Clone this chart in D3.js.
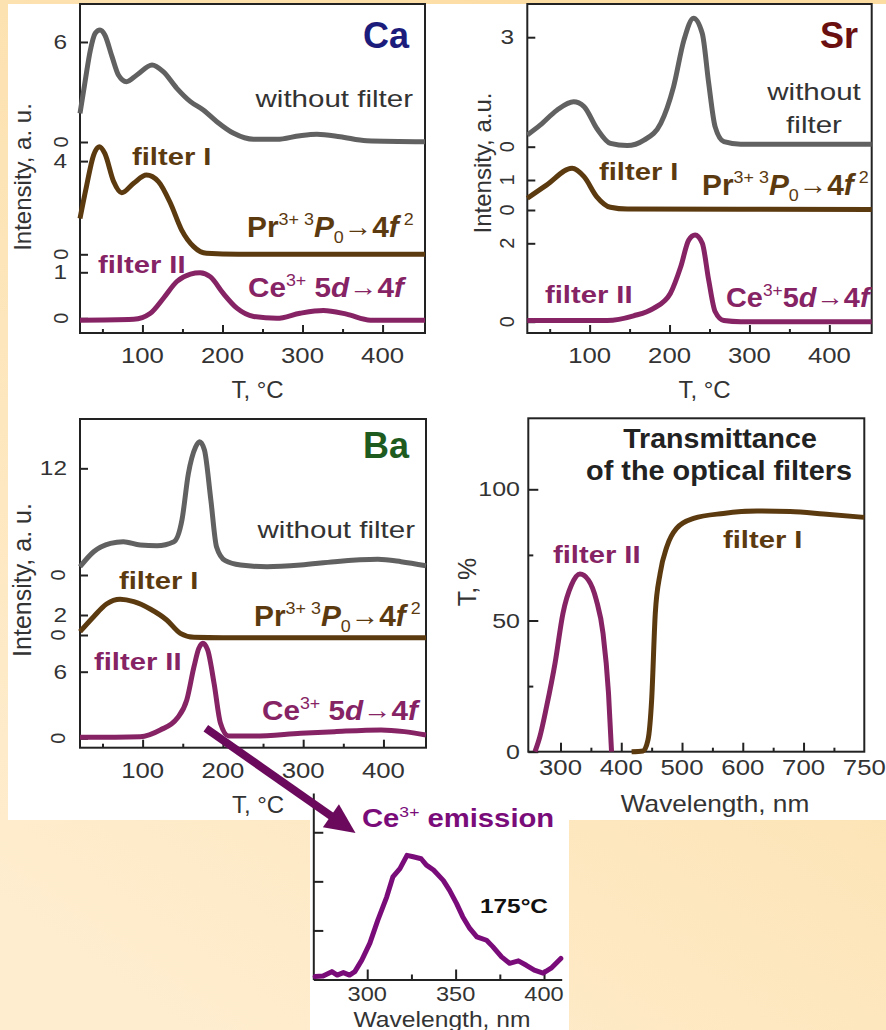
<!DOCTYPE html>
<html>
<head>
<meta charset="utf-8">
<script src="https://cdn.jsdelivr.net/npm/d3@7"></script>
<style>
  html, body { margin: 0; padding: 0; background: #fde6b8; }
  svg { display: block; }
  text { font-family: "Liberation Sans", Arial, Helvetica, sans-serif; white-space: pre; }
</style>
</head>
<body>
<svg id="fig" width="886" height="1030"></svg>
<script>
// ---------- thermoluminescence glow curves (intensity, a.u. vs T, °C) ----------
const caNoFilterT = [22, 28, 35, 41, 47, 53, 62, 70, 80, 93, 112, 126, 143, 160, 176, 193, 214, 239, 268, 297, 318, 347, 380, 453];
const caNoFilterI = [1.72, 3.52, 5.52, 6.52, 6.72, 6.42, 5.12, 4.02, 3.62, 4.02, 4.62, 4.22, 3.22, 2.42, 1.92, 1.22, 0.52, 0.16, 0.16, 0.38, 0.46, 0.32, 0.08, 0.02];
const caPrT = [22, 30, 39, 46, 53, 64, 74, 89, 105, 120, 135, 149, 164, 180, 220, 453];
const caPrI = [1.54, 2.9, 4.26, 4.62, 4.33, 3.12, 2.64, 3.05, 3.4, 3.12, 2.19, 1.04, 0.33, 0.04, 0, 0];
const caCeT = [22, 89, 110, 126, 143, 160, 172, 185, 201, 218, 239, 268, 297, 326, 355, 385, 453];
const caCeI = [-0.04, -0.02, 0.11, 0.43, 0.8, 0.96, 0.99, 0.9, 0.54, 0.22, 0.04, 0, 0.11, 0.17, 0.09, -0.04, -0.04];

const srNoFilterT = [22, 38, 59, 80, 93, 109, 126, 147, 168, 189, 205, 218, 230, 241, 249, 257, 268, 289, 453];
const srNoFilterI = [0.32, 0.59, 1.0, 1.23, 1.1, 0.5, 0.09, 0.03, 0.18, 0.64, 1.64, 2.92, 3.52, 3.1, 1.74, 0.55, 0.14, 0.07, 0.07];
const srPrT = [22, 46, 78, 93, 109, 126, 147, 453];
const srPrI = [0.39, 0.83, 1.39, 1.11, 0.44, 0.09, 0.03, 0.02];
const srCeT = [22, 122, 155, 180, 201, 214, 224, 232, 241, 249, 257, 268, 289, 453];
const srCeI = [0.03, 0.03, 0.15, 0.34, 0.72, 1.4, 2.08, 2.21, 2.0, 1.06, 0.26, 0.03, 0, 0];

const baNoFilterT = [22, 39, 60, 76, 97, 118, 139, 149, 157, 166, 171, 177, 185, 192, 203, 222, 255, 297, 339, 393, 422, 453];
const baNoFilterI = [0.93, 2.62, 3.56, 3.75, 3.37, 3.3, 3.75, 6.19, 11.4, 14.4, 15.0, 14.06, 8.44, 3.19, 1.61, 1.12, 0.93, 1.12, 1.5, 1.76, 1.5, 1.05];
const baPrT = [22, 39, 55, 72, 89, 110, 130, 147, 164, 200, 453];
const baPrI = [0.33, 1.83, 3.1, 3.57, 3.33, 2.57, 1.5, 0.17, -0.23, -0.28, -0.28];
const baCeT = [22, 97, 122, 143, 155, 164, 170, 175, 181, 189, 197, 207, 239, 297, 339, 397, 426, 453];
const baCeI = [0.09, 0.15, 0.75, 1.8, 3.45, 6.45, 8.1, 8.56, 7.96, 4.95, 1.35, 0.21, 0.21, 0.45, 0.6, 0.75, 0.6, 0.3];

const tDomain = [22, 453];
const tMajorTicks = [100, 200, 300, 400];
const tMinorTicks = [50, 150, 250, 350];

// y tick values per curve
const caTicks = { noFilter: [0, 6], pr: [0, 4], ce: [0, 1] };
const srTicks = { noFilter: [0, 3], pr: [0, 1], ce: [0, 2] };
const baTicks = { noFilter: [0, 12], pr: [0, 2], ce: [0, 6] };

// ---------- transmittance of the optical filters (T, % vs wavelength, nm) ----------
const filterIINm = [258, 266, 277, 291, 304, 318, 332, 346, 359, 370, 379, 384];
const filterIIT = [0, 5.7, 17.1, 33.7, 52.7, 63.5, 67.7, 65.4, 57.8, 45.1, 22.3, 0];
const filterINm = [417, 436, 444, 450, 456, 464, 475, 491, 519, 568, 623, 678, 733, 800];
const filterIT = [0, 0.3, 4.5, 19.7, 52.7, 68, 78.1, 85.1, 88.9, 90.8, 91.7, 91.5, 90.6, 89.3];
const trWlDomain = [247, 800];
const trWlMajor = [300, 400, 500, 600, 700];
const trWlMinor = [350, 450, 550, 650, 750];
const trWlLabels = [[300, "300"], [400, "400"], [500, "500"], [600, "600"], [700, "700"], [800, "750"]];
const trYMajor = [0, 50, 100];
const trYMinor = [25, 75];

// ---------- Ce3+ emission spectrum at 175 °C ----------
const emissionTemp = 175;
const emissionNm = [270.5, 275, 280, 283, 286.5, 290, 293, 297, 301.5, 306, 311, 314.5, 318.5, 322.5, 326, 330.5, 333.5, 337.5, 343, 346.5, 350.5, 354, 358, 362, 367.5, 371, 376, 380.5, 385.5, 390, 394.5, 399.5, 404, 409.5];
const emissionI = [0.06, 0.07, 0.16, 0.09, 0.14, 0.09, 0.16, 0.4, 0.74, 1.21, 1.68, 2.09, 2.26, 2.53, 2.5, 2.46, 2.33, 2.23, 2.02, 1.82, 1.55, 1.28, 1.04, 0.87, 0.8, 0.67, 0.46, 0.33, 0.38, 0.29, 0.19, 0.13, 0.23, 0.43];
const emWlDomain = [269.5, 410];
const emWlMajor = [300, 350, 400];
const emWlMinor = [325, 375];
const emYTicks = [1, 2, 3];

// ---------- styling ----------
const INK = "#222";
const TICKTXT = "#333";
const GRAY = "#616161";
const BROWN = "#5c3a10";
const PURPLE = "#862364";
const VIOLET = "#7a0c7a";
const ARROW = "#6b0a5c";

const svg = d3.select("#fig");
const defs = svg.append("defs");
const bg = defs.append("linearGradient").attr("id", "bg")
  .attr("x1", "0.2").attr("y1", "1").attr("x2", "0.8").attr("y2", "0");
bg.append("stop").attr("offset", "0").attr("stop-color", "#feedcf");
bg.append("stop").attr("offset", "1").attr("stop-color", "#fcdca0");

svg.append("rect").attr("width", 886).attr("height", 1030).attr("fill", "url(#bg)");
svg.append("rect").attr("x", 8).attr("y", 4).attr("width", 878).attr("height", 816).attr("fill", "#fff");
svg.append("rect").attr("x", 310).attr("y", 820).attr("width", 259).attr("height", 210).attr("fill", "#fff");

// text helper: parts may be superscript, subscript, italic or arrow
function label(g, o) {
  const size = o.size;
  const t = g.append("text")
    .attr("transform", `translate(${o.x},${o.y}) scale(${o.sx || 1},1)`)
    .attr("text-anchor", o.anchor || "start")
    .attr("font-size", size)
    .attr("font-weight", o.weight || "normal")
    .attr("fill", o.fill || INK);
  const parts = o.parts || [{ t: o.text }];
  let shift = 0;
  parts.forEach(p => {
    const ts = t.append("tspan").text(p.t);
    let target = 0;
    if (p.sup) { target = -0.42 * size; ts.attr("font-size", size * 0.6).attr("font-weight", "normal"); }
    if (p.sub) { target = 0.2 * size; ts.attr("font-size", size * 0.6).attr("font-weight", "normal"); }
    if (p.arrow) { ts.attr("font-size", size * 0.95).attr("font-weight", "normal"); target = -0.02 * size; }
    if (p.i) ts.attr("font-style", "italic");
    ts.attr("dy", target - shift);
    shift = target;
  });
  return t;
}
function vlabel(g, x, y, text, size, fill) {
  g.append("text")
    .attr("transform", `translate(${x},${y}) rotate(-90)`)
    .attr("text-anchor", "middle").attr("dy", "0.36em")
    .attr("font-size", size).attr("fill", fill || TICKTXT).text(text);
}
function styleAxis(sel) {
  sel.select(".domain").remove();
  sel.selectAll(".tick line").attr("stroke", INK).attr("stroke-width", 2);
}

const prParts = [{ t: "Pr" }, { t: "3+ 3", sup: true }, { t: "P", i: true }, { t: "0", sub: true },
  { t: "\u2192", arrow: true }, { t: "4" }, { t: "f", i: true }, { t: " 2", sup: true }];
const ceParts = (gap) => [{ t: "Ce" }, { t: "3+", sup: true }, { t: gap + "5" }, { t: "d", i: true },
  { t: "\u2192", arrow: true }, { t: "4" }, { t: "f", i: true }];

const lineT = (x, y) => d3.line().x(d => x(d[0])).y(d => y(d[1])).curve(d3.curveMonotoneX);

function tPanel(cfg) {
  const g = svg.append("g");
  const x = d3.scaleLinear().domain(tDomain).range([cfg.l, cfg.r]);
  cfg.xScale = x;

  g.append("g").attr("transform", `translate(0,${cfg.b})`)
    .call(d3.axisBottom(x).tickValues(tMajorTicks).tickSize(-8).tickFormat("")).call(styleAxis);
  g.append("g").attr("transform", `translate(0,${cfg.b})`)
    .call(d3.axisBottom(x).tickValues(tMinorTicks).tickSize(-4).tickFormat("")).call(styleAxis);
  tMajorTicks.forEach(v => label(g, { x: x(v), y: cfg.b + 30, size: 22, sx: 1.17, anchor: "middle", fill: TICKTXT, text: String(v) }));
  label(g, { x: (cfg.l + cfg.r) / 2 + 5, y: cfg.b + 65, size: 24, anchor: "middle", fill: TICKTXT, text: "T, \u00B0C" });
  vlabel(g, cfg.ytitle.x, cfg.ytitle.y, cfg.ytitle.text, cfg.ytitle.size);

  cfg.traces.forEach(tr => {
    const y = d3.scaleLinear().domain([0, 1]).range([tr.zero, tr.zero - tr.k]);
    tr.yScale = y;
    g.append("g").attr("transform", `translate(${cfg.l},0)`)
      .call(d3.axisLeft(y).tickValues(tr.ticks).tickSize(-8).tickFormat("")).call(styleAxis);
    tr.ticks.forEach(v => {
      const rotated = (v === 0 || cfg.rotateAll) && !(tr.upright && v !== 0);
      if (rotated) vlabel(g, cfg.rotX, y(v), String(v), 20);
      else label(g, { x: cfg.labX, y: y(v) + 7, size: 20, sx: 1.22, anchor: "end", fill: TICKTXT, text: String(v) });
    });
  });

  g.append("rect").attr("x", cfg.l).attr("y", cfg.t).attr("width", cfg.r - cfg.l).attr("height", cfg.b - cfg.t)
    .attr("fill", "none").attr("stroke", INK).attr("stroke-width", 2);

  cfg.traces.forEach(tr => {
    g.append("path").datum(d3.zip(tr.T, tr.I))
      .attr("d", lineT(x, tr.yScale))
      .attr("fill", "none").attr("stroke", tr.color).attr("stroke-width", 5)
      .attr("stroke-linejoin", "round");
  });

  cfg.texts.forEach(o => label(g, o));
  return cfg;
}

// ---- Ca ----
tPanel({
  l: 80, r: 425, t: 4, b: 333, labX: 67, rotX: 61,
  ytitle: { x: 22, y: 177, text: "Intensity, a. u.", size: 24 },
  traces: [
    { T: caNoFilterT, I: caNoFilterI, zero: 142, k: 16.67, ticks: caTicks.noFilter, color: GRAY },
    { T: caPrT, I: caPrI, zero: 254.3, k: 23.3, ticks: caTicks.pr, color: BROWN },
    { T: caCeT, I: caCeI, zero: 318.3, k: 46, ticks: caTicks.ce, color: PURPLE }
  ],
  texts: [
    { x: 409, y: 48, size: 36, weight: "bold", anchor: "end", fill: "#1c1c7c", text: "Ca" },
    { x: 413, y: 107, size: 24, sx: 1.23, anchor: "end", fill: "#333", text: "without filter" },
    { x: 132, y: 165, size: 23, sx: 1.27, weight: "bold", fill: BROWN, text: "filter I" },
    { x: 247, y: 237, size: 29, sx: 1.03, weight: "bold", fill: BROWN, parts: prParts },
    { x: 98, y: 273, size: 23, sx: 1.27, weight: "bold", fill: PURPLE, text: "filter II" },
    { x: 248, y: 297, size: 27, sx: 1.1, weight: "bold", fill: PURPLE, parts: ceParts(" ") }
  ]
});

// ---- Sr ----
tPanel({
  l: 527.3, r: 871.7, t: 4, b: 333, labX: 514, rotX: 507, rotateAll: true,
  ytitle: { x: 482, y: 163, text: "Intensity, a.u.", size: 24 },
  traces: [
    { T: srNoFilterT, I: srNoFilterI, zero: 146.7, k: 36.5, ticks: srTicks.noFilter, color: GRAY, upright: true },
    { T: srPrT, I: srPrI, zero: 210, k: 30, ticks: srTicks.pr, color: BROWN },
    { T: srCeT, I: srCeI, zero: 321.7, k: 39.2, ticks: srTicks.ce, color: PURPLE }
  ],
  texts: [
    { x: 858, y: 48, size: 36, weight: "bold", anchor: "end", fill: "#6b1010", text: "Sr" },
    { x: 814, y: 100, size: 24, sx: 1.23, anchor: "middle", fill: "#333", text: "without" },
    { x: 814, y: 133, size: 24, sx: 1.23, anchor: "middle", fill: "#333", text: "filter" },
    { x: 599, y: 180, size: 23, sx: 1.27, weight: "bold", fill: BROWN, text: "filter I" },
    { x: 702, y: 195, size: 29, sx: 1.03, weight: "bold", fill: BROWN, parts: prParts },
    { x: 545, y: 303, size: 23, sx: 1.27, weight: "bold", fill: PURPLE, text: "filter II" },
    { x: 726, y: 307, size: 27, sx: 1.07, weight: "bold", fill: PURPLE, parts: ceParts("") }
  ]
});

// ---- Ba ----
const ba = tPanel({
  l: 80, r: 426, t: 419, b: 747.7, labX: 67, rotX: 57.5,
  ytitle: { x: 22, y: 580, text: "Intensity, a. u.", size: 25 },
  traces: [
    { T: baNoFilterT, I: baNoFilterI, zero: 575, k: 8.89, ticks: baTicks.noFilter, color: GRAY },
    { T: baPrT, I: baPrI, zero: 635, k: 10, ticks: baTicks.pr, color: BROWN },
    { T: baCeT, I: baCeI, zero: 738.3, k: 11.1, ticks: baTicks.ce, color: PURPLE }
  ],
  texts: [
    { x: 409, y: 458, size: 36, weight: "bold", anchor: "end", fill: "#1e5b1e", text: "Ba" },
    { x: 415, y: 538, size: 24, sx: 1.23, anchor: "end", fill: "#333", text: "without filter" },
    { x: 119, y: 589, size: 23, sx: 1.27, weight: "bold", fill: BROWN, text: "filter I" },
    { x: 254, y: 626, size: 29, sx: 1.03, weight: "bold", fill: BROWN, parts: prParts },
    { x: 94, y: 670, size: 23, sx: 1.27, weight: "bold", fill: PURPLE, text: "filter II" },
    { x: 262, y: 720, size: 27, sx: 1.1, weight: "bold", fill: PURPLE, parts: ceParts(" ") }
  ]
});

// ---- transmittance panel ----
(function () {
  const g = svg.append("g");
  const L = 528.3, R = 864.3, T = 418.3, B = 751.7;
  const x = d3.scaleLinear().domain(trWlDomain).range([L, R]);
  const y = d3.scaleLinear().domain([0, 100]).range([B, 489.3]);

  g.append("g").attr("transform", `translate(0,${B})`)
    .call(d3.axisBottom(x).tickValues(trWlMajor).tickSize(-9).tickFormat("")).call(styleAxis);
  g.append("g").attr("transform", `translate(0,${B})`)
    .call(d3.axisBottom(x).tickValues(trWlMinor).tickSize(-4).tickFormat("")).call(styleAxis);
  g.append("g").attr("transform", `translate(${L},0)`)
    .call(d3.axisLeft(y).tickValues(trYMajor).tickSize(-10).tickFormat("")).call(styleAxis);
  g.append("g").attr("transform", `translate(${L},0)`)
    .call(d3.axisLeft(y).tickValues(trYMinor).tickSize(-5).tickFormat("")).call(styleAxis);

  trWlLabels.forEach(([v, s]) => label(g, { x: x(v), y: B + 23, size: 22, sx: 1.17, anchor: "middle", fill: TICKTXT, text: s }));
  trYMajor.forEach(v => label(g, { x: 520, y: y(v) + 7, size: 20, sx: 1.25, anchor: "end", fill: TICKTXT, text: String(v) }));
  label(g, { x: 715, y: 812, size: 23, sx: 1.14, anchor: "middle", fill: TICKTXT, text: "Wavelength, nm" });
  vlabel(g, 467, 582, "T, %", 25);

  g.append("rect").attr("x", L).attr("y", T).attr("width", R - L).attr("height", B - T)
    .attr("fill", "none").attr("stroke", INK).attr("stroke-width", 2);

  const ln = d3.line().x(d => x(d[0])).y(d => y(d[1])).curve(d3.curveMonotoneX);
  g.append("path").datum(d3.zip(filterIINm, filterIIT)).attr("d", ln)
    .attr("fill", "none").attr("stroke", PURPLE).attr("stroke-width", 5).attr("stroke-linejoin", "round");
  g.append("path").datum(d3.zip(filterINm, filterIT)).attr("d", ln)
    .attr("fill", "none").attr("stroke", BROWN).attr("stroke-width", 5).attr("stroke-linejoin", "round");

  label(g, { x: 720, y: 448, size: 28, sx: 1.02, weight: "bold", anchor: "middle", fill: INK, text: "Transmittance" });
  label(g, { x: 719, y: 480, size: 28, sx: 1.03, weight: "bold", anchor: "middle", fill: INK, text: "of the optical filters" });
  label(g, { x: 553, y: 563, size: 23, sx: 1.27, weight: "bold", fill: PURPLE, text: "filter II" });
  label(g, { x: 723, y: 548, size: 23, sx: 1.27, weight: "bold", fill: BROWN, text: "filter I" });
})();

// ---- Ce3+ emission inset ----
(function () {
  const g = svg.append("g");
  const x = d3.scaleLinear().domain(emWlDomain).range([313.3, 561.7]);
  const y = d3.scaleLinear().domain([0, 3.8]).range([979.5, 793]);
  const axStyle = sel => { sel.select(".domain").attr("stroke", INK).attr("stroke-width", 2); sel.selectAll(".tick line").attr("stroke", INK).attr("stroke-width", 2); };
  g.append("g").attr("transform", "translate(0,979.5)")
    .call(d3.axisBottom(x).tickValues(emWlMajor).tickSize(-10).tickSizeOuter(0).tickFormat("")).call(axStyle);
  g.append("g").attr("transform", "translate(0,979.5)")
    .call(d3.axisBottom(x).tickValues(emWlMinor).tickSize(-5).tickSizeOuter(0).tickFormat("")).call(styleAxis);
  g.append("g").attr("transform", "translate(313.3,0)")
    .call(d3.axisLeft(y).tickValues(emYTicks).tickSize(-10).tickSizeOuter(0).tickFormat("")).call(axStyle);
  emWlMajor.forEach(v => label(g, { x: x(v), y: 1001, size: 20, sx: 1.18, anchor: "middle", fill: TICKTXT, text: String(v) }));
  label(g, { x: 442, y: 1026.5, size: 22, sx: 1.12, anchor: "middle", fill: TICKTXT, text: "Wavelength, nm" });

  g.append("path").datum(d3.zip(emissionNm, emissionI))
    .attr("d", d3.line().x(d => x(d[0])).y(d => y(d[1])))
    .attr("fill", "none").attr("stroke", VIOLET).attr("stroke-width", 5)
    .attr("stroke-linejoin", "round").attr("stroke-linecap", "round");

  label(g, { x: 362, y: 827, size: 25, sx: 1.17, weight: "bold", fill: VIOLET, parts: [{ t: "Ce" }, { t: "3+", sup: true }, { t: " emission" }] });
  label(g, { x: 480, y: 913, size: 21, sx: 1.16, weight: "bold", fill: "#111", text: emissionTemp + "\u00B0C" });

  // arrow from the Ba Ce3+ glow peak to the emission spectrum
  const ceTr = ba.traces[2];
  const start = [ba.xScale(emissionTemp) + 3, ceTr.yScale(0.9)];
  const tip = [355.5, 833];
  const dx = tip[0] - start[0], dy = tip[1] - start[1];
  const len = Math.hypot(dx, dy), ux = dx / len, uy = dy / len;
  const headL = 30, headW = 14;
  const base = [tip[0] - ux * headL, tip[1] - uy * headL];
  svg.append("line").attr("x1", start[0]).attr("y1", start[1]).attr("x2", base[0] + ux * 2).attr("y2", base[1] + uy * 2)
    .attr("stroke", ARROW).attr("stroke-width", 8);
  svg.append("path")
    .attr("d", `M${tip[0]},${tip[1]}L${base[0] - uy * headW},${base[1] + ux * headW}L${base[0] + uy * headW},${base[1] - ux * headW}Z`)
    .attr("fill", ARROW);
})();
</script>
</body>
</html>
